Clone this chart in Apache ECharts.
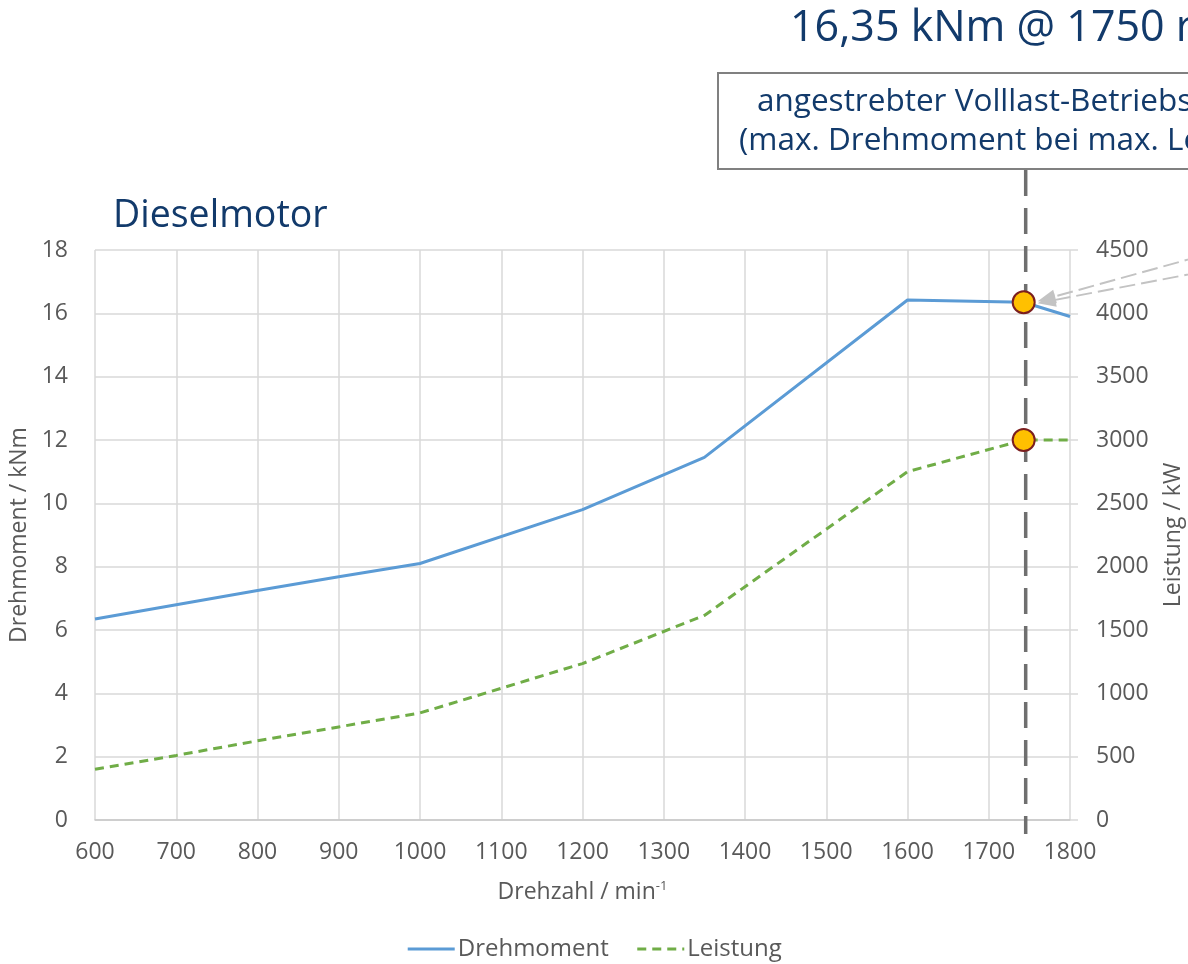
<!DOCTYPE html>
<html>
<head>
<meta charset="utf-8">
<script src="https://cdn.jsdelivr.net/npm/echarts@6/dist/echarts.min.js"></script>
<style>
  html, body { margin: 0; padding: 0; background: #fff; }
  #chart { width: 1188px; height: 964px; }
</style>
</head>
<body>
<div id="chart"></div>
<script>
// data
const speedTorque = [600, 700, 800, 900, 1000, 1200, 1350, 1600, 1743, 1800];
const torque = [6.35, 6.8, 7.25, 7.68, 8.1, 9.8, 11.45, 16.42, 16.35, 15.9];
const speedPower = [600, 700, 800, 900, 1000, 1100, 1200, 1350, 1600, 1743, 1800];
const power = [400, 510, 625, 735, 845, 1040, 1235, 1615, 2750, 3000, 3000];
const opSpeed = [1743];
const opTorque = [16.35];
const opPower = [3000];

const navy = '#123a6b';
const grey = '#595959';
const font = 'Open Sans';
const plain = v => String(v);

var chart = echarts.init(document.getElementById('chart'));

var option = {
    textStyle: { fontFamily: font },
    animation: false,
    grid: { left: 95, right: 118, top: 250, bottom: 144, outerBoundsMode: 'none' },
    legend: {
        top: 932,
        left: 'center',
        itemWidth: 47,
        itemHeight: 4,
        itemGap: 27,
        itemStyle: { opacity: 0 },
        lineStyle: { width: 3 },
        data: ['Drehmoment', 'Leistung'],
        textStyle: { fontSize: 24, color: grey, fontFamily: font, padding: [0, 0, 0, -2] }
    },
    xAxis: {
        type: 'value',
        min: 600,
        max: 1800,
        interval: 100,
        name: '{a|Drehzahl / min}{s|-1}',
        nameLocation: 'middle',
        nameGap: 60,
        nameTextStyle: {
            rich: {
                a: { fontSize: 23, color: grey, fontFamily: font },
                s: { fontSize: 13, color: grey, fontFamily: font, verticalAlign: 'top', padding: [0, 0, 12, 0] }
            }
        },
        axisLine: { lineStyle: { color: '#c8c8c8', width: 1.5 } },
        axisTick: { show: false },
        axisLabel: { fontSize: 23, color: grey, margin: 21, formatter: plain },
        splitLine: { lineStyle: { color: '#d9d9d9', width: 1.5 } }
    },
    yAxis: [
        {
            type: 'value',
            min: 0,
            max: 18,
            interval: 2,
            name: 'Drehmoment / kNm',
            nameLocation: 'middle',
            nameGap: 60,
            nameTextStyle: { fontSize: 23, color: grey },
            axisLine: { show: false },
            axisTick: { show: false },
            axisLabel: { fontSize: 23, color: grey, margin: 27, formatter: plain },
            splitLine: { lineStyle: { color: '#d9d9d9', width: 1.5 } }
        },
        {
            type: 'value',
            min: 0,
            max: 4500,
            interval: 500,
            name: 'Leistung / kW',
            nameLocation: 'middle',
            nameGap: 92,
            nameTextStyle: { fontSize: 23, color: grey },
            axisLine: { show: false },
            axisTick: { show: true, length: 8, lineStyle: { color: '#d9d9d9', width: 1.5 } },
            axisLabel: { fontSize: 23, color: grey, margin: 26, formatter: plain },
            splitLine: { show: false }
        }
    ],
    series: [
        {
            name: 'Drehmoment',
            type: 'line',
            yAxisIndex: 0,
            symbol: 'none',
            data: speedTorque.map((s, i) => [s, torque[i]]),
            lineStyle: { color: '#5b9bd5', width: 3 },
            itemStyle: { color: '#5b9bd5' }
        },
        {
            name: 'Leistung',
            type: 'line',
            yAxisIndex: 1,
            symbol: 'none',
            data: speedPower.map((s, i) => [s, power[i]]),
            lineStyle: { color: '#70ad47', width: 3, type: [9, 6] },
            itemStyle: { color: '#70ad47' }
        }
    ]
};

chart.setOption(option);

// operating point: dashed vertical line, markers, annotation
var pTop = chart.convertToPixel({ xAxisIndex: 0, yAxisIndex: 0 }, [opSpeed[0], opTorque[0]]);
var pBot = chart.convertToPixel({ xAxisIndex: 0, yAxisIndex: 1 }, [opSpeed[0], opPower[0]]);
var px = pTop[0];

var arrowColor = '#c3c3c3';
function arrow(x1, y1, x2, y2) {
    var ang = Math.atan2(y1 - y2, x1 - x2);
    var L = 18, W = 7;
    var bx = x2 + Math.cos(ang) * L, by = y2 + Math.sin(ang) * L;
    return [
        {
            type: 'line', z: 5,
            shape: { x1: x1, y1: y1, x2: bx, y2: by },
            style: { stroke: arrowColor, lineWidth: 2, lineDash: [16, 6] }
        },
        {
            type: 'polygon', z: 5,
            shape: { points: [[x2, y2], [bx - Math.sin(ang) * W, by + Math.cos(ang) * W], [bx + Math.sin(ang) * W, by - Math.cos(ang) * W]] },
            style: { fill: arrowColor }
        }
    ];
}

var graphics = [
    {
        type: 'text', left: 790, top: 7,
        style: { text: '16,35 kNm @ 1750 rpm', fontSize: 43, fill: navy, fontFamily: font }
    },
    {
        type: 'rect', z: 3,
        shape: { x: 718, y: 73, width: 600, height: 96 },
        style: { fill: '#fff', stroke: '#808080', lineWidth: 2 }
    },
    {
        type: 'text', z: 4, left: 757, top: 86,
        style: { text: 'angestrebter Volllast-Betriebspunkt', fontSize: 31.5, fill: navy, fontFamily: font }
    },
    {
        type: 'text', z: 4, left: 739, top: 125,
        style: { text: '(max. Drehmoment bei max. Leistung)', fontSize: 31.5, fill: navy, fontFamily: font }
    },
    {
        type: 'text', left: 113, top: 197,
        style: { text: 'Dieselmotor', fontSize: 37.5, fill: navy, fontFamily: font }
    },
    {
        type: 'line', z: 2,
        shape: { x1: px + 2, y1: 170, x2: px + 2, y2: 834 },
        style: { stroke: '#6f6f6f', lineWidth: 3.5, lineDash: [26, 12] }
    }
];
graphics = graphics.concat(arrow(1200, pTop[1] - 46, pTop[0] + 14, pTop[1] - 1));
graphics = graphics.concat(arrow(1200, pTop[1] - 30, pTop[0] + 14, pTop[1] + 1));

[pTop, pBot].forEach(function (p) {
    graphics.push({
        type: 'circle', z: 10,
        shape: { cx: p[0], cy: p[1], r: 11 },
        style: { fill: '#ffc000', stroke: '#7b1f1f', lineWidth: 2 }
    });
});

chart.setOption({ graphic: graphics });
</script>
</body>
</html>
